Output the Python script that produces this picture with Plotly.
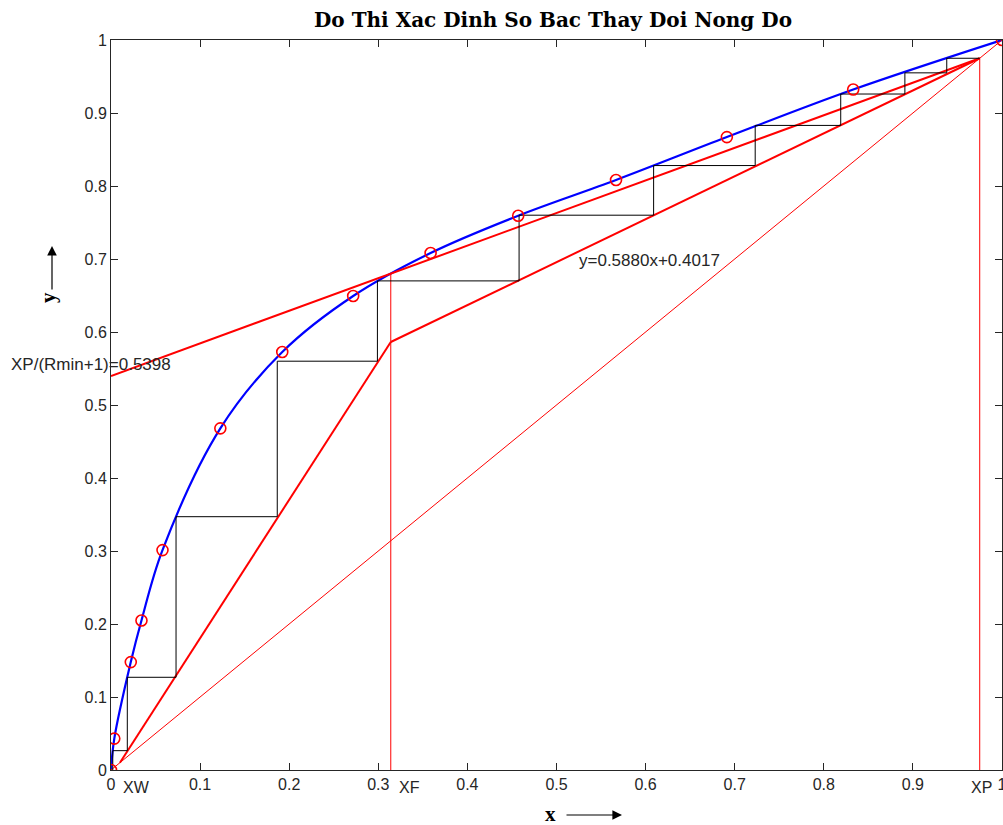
import plotly.graph_objects as go

# ---- data ----
x_eq = [0.0, 0.0037, 0.0222, 0.0342, 0.0578, 0.1227, 0.1922, 0.2718, 0.3587, 0.4570, 0.5668, 0.6912, 0.8330, 1.0]
y_eq = [0.0, 0.0430, 0.1478, 0.2048, 0.3012, 0.4680, 0.5726, 0.6493, 0.7082, 0.7593, 0.8082, 0.8670, 0.9322, 1.0]

XW = 0.01
XF = 0.314
XP = 0.975
Y_RMIN = 0.5398          # XP/(Rmin+1)
Y_FEED = 0.5863          # rectifying line at XF
Y_PINCH = 0.680          # top of the XF vertical

rect_x = [XF, XP]
rect_y = [Y_FEED, XP]
strip_x = [XW, XF]
strip_y = [XW, Y_FEED]
rmin_x = [0.0, XP]
rmin_y = [Y_RMIN, XP]
diag_x = [0.0, 1.0]
diag_y = [0.0, 1.0]

step_x = [0.975, 0.938, 0.938, 0.891, 0.891, 0.819, 0.819, 0.723, 0.723, 0.609, 0.609,
          0.458, 0.458, 0.299, 0.299, 0.1866, 0.1866, 0.073, 0.073, 0.0183, 0.0183, 0.002, 0.002]
step_y = [0.975, 0.975, 0.955, 0.955, 0.926, 0.926, 0.883, 0.883, 0.828, 0.828, 0.760,
          0.760, 0.670, 0.670, 0.560, 0.560, 0.347, 0.347, 0.127, 0.127, 0.0265, 0.0265, 0.0]

tick_vals = [0, 0.1, 0.2, 0.3, 0.4, 0.5, 0.6, 0.7, 0.8, 0.9, 1]
tick_text = ["0", "0.1", "0.2", "0.3", "0.4", "0.5", "0.6", "0.7", "0.8", "0.9", "1"]

title_text = "Do Thi Xac Dinh So Bac Thay Doi Nong Do"
rmin_label = "XP/(Rmin+1)=0.5398"
op_label = "y=0.5880x+0.4017"

RED = "#ff0000"
BLUE = "#0000ff"
SANS = "Liberation Sans, Arial, sans-serif"
SERIF = "DejaVu Serif, serif"

fig = go.Figure()

# equilibrium curve
fig.add_trace(go.Scatter(x=x_eq, y=y_eq, mode="lines",
                         line=dict(color=BLUE, width=2.2, shape="spline", smoothing=1.0),
                         hoverinfo="skip"))
# diagonal
fig.add_trace(go.Scatter(x=diag_x, y=diag_y, mode="lines", line=dict(color=RED, width=1)))
# vertical XF, XP lines
fig.add_trace(go.Scatter(x=[XF, XF], y=[0, Y_PINCH], mode="lines", line=dict(color=RED, width=1)))
fig.add_trace(go.Scatter(x=[XP, XP], y=[0, XP], mode="lines", line=dict(color=RED, width=1)))
# operating lines
fig.add_trace(go.Scatter(x=rmin_x, y=rmin_y, mode="lines", line=dict(color=RED, width=2)))
fig.add_trace(go.Scatter(x=rect_x, y=rect_y, mode="lines", line=dict(color=RED, width=2)))
fig.add_trace(go.Scatter(x=strip_x, y=strip_y, mode="lines", line=dict(color=RED, width=2)))
# steps
fig.add_trace(go.Scatter(x=step_x, y=step_y, mode="lines", line=dict(color="black", width=1)))
# data points
fig.add_trace(go.Scatter(x=x_eq, y=y_eq, mode="markers",
                         marker=dict(symbol="circle-open", size=11, color=RED,
                                     line=dict(color=RED, width=1.6))))

axis_common = dict(range=[0, 1], tickvals=tick_vals, ticktext=tick_text,
                   ticks="inside", ticklen=7, tickwidth=1, tickcolor="#262626",
                   showline=True, linecolor="#262626", linewidth=1, mirror="ticks",
                   showgrid=False, zeroline=False, ticklabeloverflow="allow",
                   automargin=False,
                   tickfont=dict(family=SANS, size=16, color="#262626"))

fig.update_layout(
    width=1003, height=825,
    margin=dict(l=111, r=1, t=40, b=55, autoexpand=False),
    paper_bgcolor="white", plot_bgcolor="white",
    showlegend=False,
    xaxis=axis_common,
    yaxis=axis_common,
)

ann = []
ann.append(dict(text="<b>" + title_text + "</b>", xref="paper", yref="paper",
                x=0.4966, y=(770 - 20) / 730, xanchor="center", yanchor="middle",
                showarrow=False, font=dict(family=SERIF, size=20, color="black")))
ann.append(dict(text=rmin_label, xref="paper", yref="paper", x=(9 - 111) / 891, y=0.5548,
                xanchor="left", yanchor="middle", showarrow=False,
                font=dict(family=SANS, size=17, color="#262626")))
ann.append(dict(text=op_label, xref="x", yref="y", x=0.5230, y=0.6973,
                xanchor="left", yanchor="middle", showarrow=False,
                font=dict(family=SANS, size=17, color="#262626")))
for lab, xl in [("XW", 0.0115), ("XF", 0.3210), ("XP", 0.9630)]:
    ann.append(dict(text=lab, xref="x", yref="paper", x=xl, y=-0.0240,
                    xanchor="left", yanchor="middle", showarrow=False,
                    font=dict(family=SANS, size=16, color="#262626")))
# x axis label with arrow
ann.append(dict(text="<b>x</b>", xref="paper", yref="paper", x=(550 - 111) / 891, y=(770 - 814) / 730,
                xanchor="center", yanchor="middle", showarrow=False,
                font=dict(family="Liberation Serif, serif", size=21, color="black")))
ann.append(dict(text="", xref="paper", yref="paper", x=(622 - 111) / 891, y=(770 - 815) / 730,
                ax=-57, ay=0, showarrow=True, arrowhead=2, arrowsize=1.6, arrowwidth=1.2,
                arrowcolor="black"))
# y axis label with arrow
ann.append(dict(text="<b>y</b>", xref="paper", yref="paper", x=(48 - 111) / 891, y=(770 - 298) / 730,
                xanchor="center", yanchor="middle", textangle=-90, showarrow=False,
                font=dict(family="Liberation Serif, serif", size=21, color="black")))
ann.append(dict(text="", xref="paper", yref="paper", x=(52 - 111) / 891, y=(770 - 246) / 730,
                ax=0, ay=45, showarrow=True, arrowhead=2, arrowsize=1.6, arrowwidth=1.2,
                arrowcolor="black"))
fig.update_layout(annotations=ann)

fig.write_html("out.html", config={"displayModeBar": False},
               post_script="document.body.style.margin='0';document.body.style.overflow='hidden';")
